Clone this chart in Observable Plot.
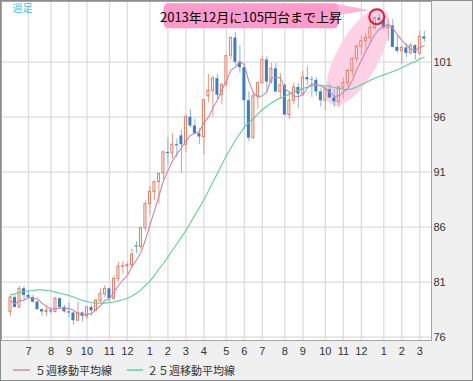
<!DOCTYPE html>
<html><head><meta charset="utf-8">
<script src="https://cdn.jsdelivr.net/npm/d3@7"></script>
<script src="https://cdn.jsdelivr.net/npm/@observablehq/plot@0.6"></script>
<style>
html,body{margin:0;padding:0;background:#fff;}
#wrap{position:relative;width:473px;height:381px;box-sizing:border-box;border:1px solid #8c8c8c;background:#f0f0f0;overflow:hidden;font-family:"Liberation Sans",Arial,sans-serif;}
#chart svg{display:block;background:transparent;}
#legend{position:absolute;left:0;top:360px;width:471px;height:19px;font-family:"Noto Sans CJK JP",sans-serif;font-size:11px;color:#333;}
.item{position:absolute;top:0;height:19px;line-height:19px;white-space:nowrap;}
.sw{position:absolute;top:8px;height:2px;}
</style></head><body>
<div id="wrap"><div id="chart"></div><div id="legend"></div></div>
<script>
const weeks = ["2012-06-04","2012-06-11","2012-06-18","2012-06-25","2012-07-02","2012-07-09","2012-07-16","2012-07-23","2012-07-30","2012-08-06","2012-08-13","2012-08-20","2012-08-27","2012-09-03","2012-09-10","2012-09-17","2012-09-24","2012-10-01","2012-10-08","2012-10-15","2012-10-22","2012-10-29","2012-11-05","2012-11-12","2012-11-19","2012-11-26","2012-12-03","2012-12-10","2012-12-17","2012-12-24","2012-12-31",
"2013-01-07","2013-01-14","2013-01-21","2013-01-28","2013-02-04","2013-02-11","2013-02-18","2013-02-25","2013-03-04","2013-03-11","2013-03-18","2013-03-25","2013-04-01","2013-04-08","2013-04-15","2013-04-22","2013-04-29","2013-05-06","2013-05-13","2013-05-20","2013-05-27","2013-06-03","2013-06-10","2013-06-17","2013-06-24","2013-07-01","2013-07-08","2013-07-15","2013-07-22","2013-07-29","2013-08-05","2013-08-12","2013-08-19","2013-08-26","2013-09-02","2013-09-09","2013-09-16","2013-09-23","2013-09-30","2013-10-07","2013-10-14","2013-10-21","2013-10-28","2013-11-04","2013-11-11","2013-11-18","2013-11-25","2013-12-02","2013-12-09","2013-12-16","2013-12-23","2013-12-30",
"2014-01-06","2014-01-13","2014-01-20","2014-01-27","2014-02-03","2014-02-10","2014-02-17","2014-02-24","2014-03-03","2014-03-10"];
const open  = [78.3,79.6,78.7,80.4,79.8,79.6,79.2,78.5,78.3,78.4,78.3,79.5,78.7,78.3,78.2,77.5,78.2,77.9,78.7,78.4,79.3,79.9,80.4,79.5,81.3,82.4,82.45,82.55,84.3,84.2,85.9,
88.1,89.2,90.1,90.9,92.8,92.7,93.5,94.3,93.5,96.0,95.2,94.5,94.2,97.9,98.4,99.5,98.0,99.0,101.6,103.2,101.0,100.5,97.5,94.1,97.9,99.1,101.2,99.2,100.4,98.3,98.9,96.2,97.5,98.7,98.1,99.6,99.4,99.35,98.3,97.5,98.5,97.75,97.4,98.7,99.1,100.2,101.3,102.4,102.9,103.2,104.1,105.0,
104.8,104.1,104.3,102.35,102.0,102.3,101.8,102.5,101.8,103.3];
const high  = [79.7,79.8,80.6,80.6,80.2,79.8,79.3,78.6,78.9,78.7,79.6,79.6,78.9,79.1,78.3,79.2,78.3,78.8,78.9,79.5,80.4,80.7,80.5,81.6,82.8,82.9,82.8,84.0,84.7,86.0,88.4,
89.7,90.2,90.9,92.9,94.1,94.5,94.0,94.8,96.2,96.7,95.8,95.0,97.6,99.9,99.7,99.9,99.0,101.6,103.3,103.7,102.5,100.9,98.3,98.3,99.2,101.5,101.5,100.9,100.9,100.0,99.0,98.3,99.1,99.1,100.2,100.6,99.7,99.6,98.6,98.7,99.0,98.5,98.8,99.6,100.4,101.4,102.6,103.4,103.6,104.6,105.1,105.4,
105.2,104.9,104.9,103.4,102.5,102.7,102.7,102.6,103.8,103.8];
const low   = [77.9,78.7,78.6,79.3,79.5,79.1,78.5,77.9,77.9,78.1,78.2,78.5,78.2,77.8,77.1,77.4,77.4,77.6,77.9,78.3,79.1,79.6,79.1,79.3,81.0,81.7,81.7,82.3,83.6,84.0,85.6,
87.1,88.4,88.1,90.3,91.6,92.2,92.3,90.9,92.8,95.0,94.4,93.5,92.6,97.3,96.0,97.6,97.1,98.7,101.2,100.7,100.0,94.9,93.8,94.0,96.7,99.0,98.2,99.0,98.2,97.6,96.1,95.8,97.1,96.8,97.9,98.9,97.8,97.9,96.9,96.6,97.7,96.9,96.9,97.6,98.7,99.7,100.9,101.6,102.1,102.7,103.9,104.4,
103.9,102.9,102.3,101.8,100.8,101.4,101.7,101.2,101.6,102.8];
const close = [79.6,78.7,80.4,79.8,79.6,79.2,78.5,78.3,78.4,78.3,79.5,78.7,78.3,78.2,77.5,78.2,77.9,78.7,78.4,79.3,79.9,80.4,79.5,81.3,82.4,82.45,82.55,83.5,84.2,85.9,88.1,
89.2,90.1,90.85,92.8,92.7,93.5,93.4,93.5,96.0,95.2,94.5,94.2,97.55,98.4,99.5,98.0,98.95,101.55,103.2,101.0,100.5,97.5,94.1,97.9,99.1,101.2,99.2,100.4,98.3,98.9,96.2,97.5,98.7,98.1,99.6,99.4,99.35,98.3,97.5,98.5,97.75,97.4,98.7,99.1,100.2,101.3,102.4,102.9,103.2,104.1,105.0,104.8,
104.1,104.3,102.35,102.0,102.3,101.8,102.5,101.8,103.3,103.1];
const ma5  = [79.28,79.04,79.32,79.36,79.62,79.54,79.5,79.08,78.8,78.54,78.6,78.64,78.64,78.6,78.44,78.18,78.02,78.1,78.14,78.5,78.84,79.34,79.5,80.08,80.7,81.2,81.62,82.42,83.0,83.7,84.84,86.18,87.5,88.84,90.22,91.14,92.0,92.66,93.2,93.84,94.34,94.54,94.7,95.5,95.98,96.84,97.54,98.5,99.3,100.26,100.56,101.06,100.76,99.26,98.2,97.82,97.96,98.3,99.56,99.64,99.6,98.6,98.26,97.92,97.88,98.02,98.66,99.04,98.96,98.84,98.62,98.28,97.88,97.96,98.28,98.62,99.34,100.34,101.18,102.0,102.78,103.52,104.0,104.24,104.46,104.1,103.5,103.0,102.54,102.18,102.08,102.34,102.5];
const ma25 = [79.85,79.95,80.05,80.15,80.2,80.25,80.3,80.3,80.25,80.2,80.1,80.0,79.9,79.8,79.65,79.5,79.35,79.25,79.15,79.1,79.1,79.1,79.15,79.2,79.3,79.4,79.55,79.75,80.0,80.3,80.7,81.1,81.6,82.2,82.7,83.3,83.9,84.5,85.1,85.7,86.4,87.1,87.8,88.5,89.3,90.1,90.9,91.7,92.5,93.2,93.9,94.5,95.1,95.5,95.9,96.3,96.7,97.0,97.3,97.55,97.75,97.9,98.1,98.3,98.45,98.6,98.75,98.85,98.9,98.9,98.85,98.8,98.7,98.6,98.55,98.5,98.6,98.75,98.95,99.15,99.35,99.55,99.7,99.85,100.0,100.15,100.3,100.5,100.7,100.9,101.05,101.3,101.45];
const monthTicks  = ["2012-07-02","2012-08-06","2012-09-03","2012-10-01","2012-11-05","2012-12-03","2013-01-07","2013-02-04","2013-03-04","2013-04-01","2013-05-06","2013-06-03","2013-07-01","2013-08-05","2013-09-02","2013-10-07","2013-11-04","2013-12-02","2014-01-06","2014-02-03","2014-03-03"];
const monthLabels = ["7","8","9","10","11","12","1","2","3","4","5","6","7","8","9","10","11","12","1","2","3"];
const yTicks = [76, 81, 86, 91, 96, 101];
const title = "週足";
const note = "2013年12月に105円台まで上昇";
const noteAt = ["2013-06-14", 105.17];
const peakAt = ["2013-12-26", 105.14];
const zoneAt = ["2013-11-27", 101.43];
const seriesNames = ["５週移動平均線", "２５週移動平均線"];

const DAY = 864e5;
const candles = weeks.map((w, i) => ({
  date: new Date(w + "T00:00:00Z"), o: open[i], h: high[i], l: low[i], c: close[i],
  up: close[i] >= open[i], ma5: ma5[i], ma25: ma25[i]
}));
const ups = candles.filter(d => d.up), downs = candles.filter(d => !d.up);
const tickDates = monthTicks.map(s => new Date(s + "T00:00:00Z"));
const labelMap = new Map(tickDates.map((d, i) => [d.getTime(), monthLabels[i]]));

const zone = (index, scales) => {
  const g = d3.create("svg:g");
  const cx = scales.x(new Date(zoneAt[0] + "T00:00:00Z")), cy = scales.y(zoneAt[1]);
  g.append("ellipse").attr("cx", cx).attr("cy", cy).attr("rx", 54).attr("ry", 21)
    .attr("transform", `rotate(-61.4 ${cx} ${cy})`).attr("fill", "#ffd1e7");
  return g.node();
};
const callout = (index, scales) => {
  const g = d3.create("svg:g");
  const cx = scales.x(new Date(noteAt[0] + "T00:00:00Z")), cy = scales.y(noteAt[1]);
  const px = scales.x(new Date(peakAt[0] + "T00:00:00Z")), py = scales.y(peakAt[1]);
  const w = 175, h = 25, left = cx - w / 2, top = cy - h / 2, right = cx + w / 2;
  g.append("path").attr("d", `M${right - 2},${top + 0.5}L${px - 7},${py - 6}L${right - 2},${top + 12}Z`).attr("fill", "#ffb5d8");
  g.append("rect").attr("x", left).attr("y", top).attr("width", w).attr("height", h).attr("rx", 5).attr("fill", "#ff9bcb");
  g.append("text").attr("x", cx).attr("y", cy + 1).attr("text-anchor", "middle").attr("dominant-baseline", "central")
    .attr("font-family", "'Noto Sans CJK JP', sans-serif").attr("font-size", 13).attr("fill", "#000").text(note);
  return g.node();
};

const chart = Plot.plot({
  width: 471, height: 360,
  marginLeft: 0, marginRight: 41, marginTop: 0, marginBottom: 21,
  x: {type: "utc", domain: [new Date("2012-05-21T00:00:00Z"), new Date("2014-03-21T05:00:00Z")]},
  y: {domain: [75.7, 106.52]},
  style: {background: "transparent", fontFamily: "'Liberation Sans', Arial, sans-serif", fontSize: "11px", color: "#333"},
  marks: [
    Plot.frame({fill: "white", stroke: "none"}),
    Plot.gridX({ticks: tickDates, stroke: "#dcdcdc", strokeOpacity: 1, strokeWidth: 1.3}),
    Plot.gridY({ticks: yTicks, stroke: "#dcdcdc", strokeOpacity: 1, strokeWidth: 1.3}),
    zone,
    Plot.ruleX(ups, {x: "date", y1: "l", y2: "h", stroke: "#e8977f", strokeWidth: 1}),
    Plot.ruleX(downs, {x: "date", y1: "l", y2: "h", stroke: "#84b5df", strokeWidth: 1}),
    Plot.rect(ups, {x1: d => new Date(+d.date - 1.55 * DAY), x2: d => new Date(+d.date + 1.55 * DAY), y1: "o", y2: "c", fill: "white", stroke: "#e07b62", strokeWidth: 1}),
    Plot.rect(downs, {x1: d => new Date(+d.date - 2.33 * DAY), x2: d => new Date(+d.date + 2.33 * DAY), y1: "o", y2: "c", fill: "#3b7dbf"}),
    Plot.line(candles, {x: "date", y: "ma25", stroke: "#5fcf99", strokeWidth: 1.1}),
    Plot.line(candles, {x: "date", y: "ma5", stroke: "#c985ad", strokeWidth: 1.1}),
    callout,
    Plot.dot([peakAt], {x: d => new Date(d[0] + "T00:00:00Z"), y: d => d[1], r: 7.5, stroke: "#e3192e", strokeWidth: 2, fill: "none"}),
    Plot.text([title], {text: d => d, frameAnchor: "top-left", dx: 11, dy: 7.5, textAnchor: "start", lineAnchor: "middle", fill: "#3cc3f0", fontSize: 10, fontFamily: "'Noto Sans CJK JP', sans-serif"}),
    Plot.axisX({ticks: tickDates, tickFormat: d => labelMap.get(d.getTime()), tickSize: 0, tickPadding: 7, label: null}),
    Plot.axisY({ticks: yTicks, anchor: "right", tickSize: 0, tickPadding: 2, label: null}),
    Plot.frame({stroke: "#a5a5a5"})
  ]
});
document.getElementById("chart").appendChild(chart);

const legend = document.getElementById("legend");
const items = [
  {name: seriesNames[0], color: "#dca3bd", sw: 12, swW: 17, tx: 34},
  {name: seriesNames[1], color: "#86d9ad", sw: 126, swW: 16, tx: 146}
];
for (const it of items) {
  const s = document.createElement("div");
  s.className = "sw"; s.style.left = it.sw + "px"; s.style.width = it.swW + "px"; s.style.background = it.color;
  legend.appendChild(s);
  const t = document.createElement("div");
  t.className = "item"; t.style.left = it.tx + "px"; t.textContent = it.name;
  legend.appendChild(t);
}
</script>
</body></html>
